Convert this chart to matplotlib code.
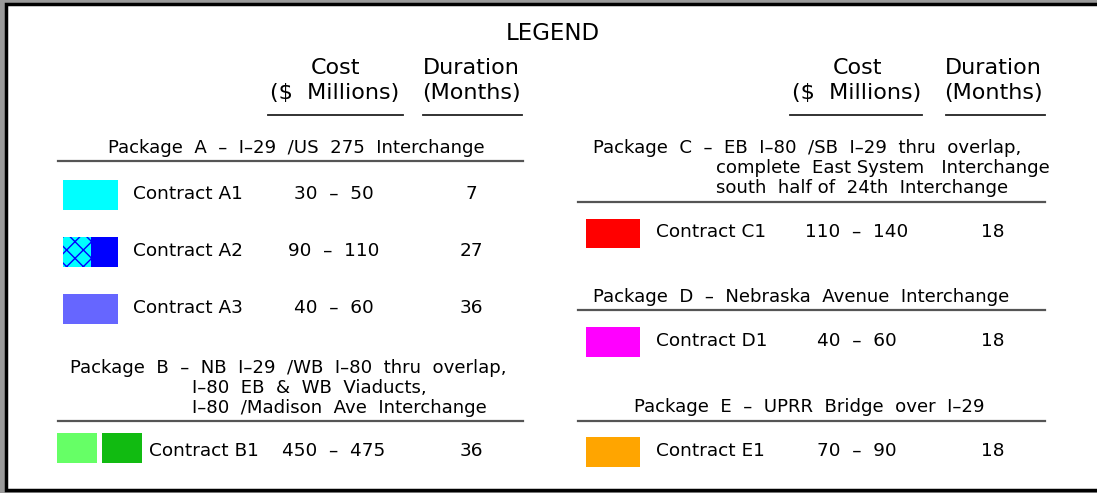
import matplotlib
matplotlib.use("Agg")
import matplotlib.pyplot as plt
from matplotlib.patches import Rectangle

plt.rcParams['font.family'] = ['DejaVu Sans']
plt.rcParams['hatch.linewidth'] = 1.0

# ---- data ----
title = "LEGEND"
col_cost = ["Cost", "($  Millions)"]
col_dur = ["Duration", "(Months)"]

left_packages = [
    ["Package  A  –  I–29  /US  275  Interchange"],
    ["Package  B  –  NB  I–29  /WB  I–80  thru  overlap,",
     "I–80  EB  &  WB  Viaducts,",
     "I–80  /Madison  Ave  Interchange"],
]
right_packages = [
    ["Package  C  –  EB  I–80  /SB  I–29  thru  overlap,",
     "complete  East System   Interchange",
     "south  half of  24th  Interchange"],
    ["Package  D  –  Nebraska  Avenue  Interchange"],
    ["Package  E  –  UPRR  Bridge  over  I–29"],
]

contracts = ["Contract A1", "Contract A2", "Contract A3", "Contract B1",
             "Contract C1", "Contract D1", "Contract E1"]
costs = ["30  –  50", "90  –  110", "40  –  60", "450  –  475",
         "110  –  140", "40  –  60", "70  –  90"]
durations = ["7", "27", "36", "36", "18", "18", "18"]
colors = ["#00ffff", "#0000ff", "#6666ff", "#11bb11",
          "#ff0000", "#ff00ff", "#ffa500"]

W, H = 1097, 493
fig = plt.figure(figsize=(W / 100, H / 100), dpi=100)
fig.patch.set_facecolor("#9a9a9a")
ax = fig.add_axes([0, 0, 1, 1])
ax.set_xlim(0, W)
ax.set_ylim(H, 0)
ax.axis("off")

# panel
ax.add_patch(Rectangle((6, 4), 1200, 486, facecolor="white",
                       edgecolor="black", linewidth=2.5, zorder=0))

FS_TITLE = 16.5
FS_HEAD = 16
FS_PKG = 13.1
FS_ROW = 13.3

ax.text(553, 34, title, ha="center", va="center", fontsize=FS_TITLE)

# column headers
for cx_cost, cx_dur, l1, l2 in [(335, 471, (268, 403), (423, 522)),
                                (857, 993, (790, 922), (946, 1045))]:
    ax.text(cx_cost, 68, col_cost[0], ha="center", va="center", fontsize=FS_HEAD)
    ax.text(cx_cost, 93, col_cost[1], ha="center", va="center", fontsize=FS_HEAD)
    ax.text(cx_dur, 68, col_dur[0], ha="center", va="center", fontsize=FS_HEAD)
    ax.text(cx_dur, 93, col_dur[1], ha="center", va="center", fontsize=FS_HEAD)
    ax.plot(l1, [115, 115], color="#222222", lw=1.3)
    ax.plot(l2, [115, 115], color="#222222", lw=1.3)

def sep(x0, x1, y):
    ax.plot([x0, x1], [y, y], color="#555555", lw=1.6)

def row(i, y, name_x, cost_x, dur_x):
    ax.text(name_x, y, contracts[i], ha="left", va="center", fontsize=FS_ROW)
    ax.text(cost_x, y, costs[i], ha="center", va="center", fontsize=FS_ROW)
    ax.text(dur_x, y, durations[i], ha="center", va="center", fontsize=FS_ROW)

# ---- left side ----
ax.text(296, 148, left_packages[0][0], ha="center", va="center", fontsize=FS_PKG)
sep(58, 523, 161)

# A1
ax.add_patch(Rectangle((63, 180), 55, 30, facecolor=colors[0], edgecolor="none"))
row(0, 194, 133, 334, 471)
# A2 (hatched cyan + blue)
ax.add_patch(Rectangle((63, 237), 28, 30, facecolor=colors[0], edgecolor=colors[1],
                       linewidth=0, hatch="xx"))
ax.add_patch(Rectangle((91, 237), 27, 30, facecolor=colors[1], edgecolor="none"))
row(1, 251, 133, 334, 471)
# A3
ax.add_patch(Rectangle((63, 294), 55, 30, facecolor=colors[2], edgecolor="none"))
row(2, 308, 133, 334, 471)

# Package B
ax.text(70, 368, left_packages[1][0], ha="left", va="center", fontsize=FS_PKG)
ax.text(192, 388, left_packages[1][1], ha="left", va="center", fontsize=FS_PKG)
ax.text(192, 408, left_packages[1][2], ha="left", va="center", fontsize=FS_PKG)
sep(58, 523, 421)
ax.add_patch(Rectangle((57, 433), 40, 30, facecolor="#66ff66", edgecolor="none"))
ax.add_patch(Rectangle((102, 433), 40, 30, facecolor=colors[3], edgecolor="none"))
row(3, 451, 149, 334, 471)

# ---- right side ----
ax.text(593, 148, right_packages[0][0], ha="left", va="center", fontsize=FS_PKG)
ax.text(716, 168, right_packages[0][1], ha="left", va="center", fontsize=FS_PKG)
ax.text(716, 188, right_packages[0][2], ha="left", va="center", fontsize=FS_PKG)
sep(578, 1045, 202)
ax.add_patch(Rectangle((586, 219), 54, 29, facecolor=colors[4], edgecolor="none"))
row(4, 232, 656, 857, 993)

ax.text(593, 297, right_packages[1][0], ha="left", va="center", fontsize=FS_PKG)
sep(578, 1045, 310)
ax.add_patch(Rectangle((586, 327), 54, 30, facecolor=colors[5], edgecolor="none"))
row(5, 341, 656, 857, 993)

ax.text(809, 407, right_packages[2][0], ha="center", va="center", fontsize=FS_PKG)
sep(578, 1045, 421)
ax.add_patch(Rectangle((586, 437), 54, 30, facecolor=colors[6], edgecolor="none"))
row(6, 451, 656, 857, 993)

fig.savefig("out.png", dpi=100, facecolor=fig.get_facecolor())
